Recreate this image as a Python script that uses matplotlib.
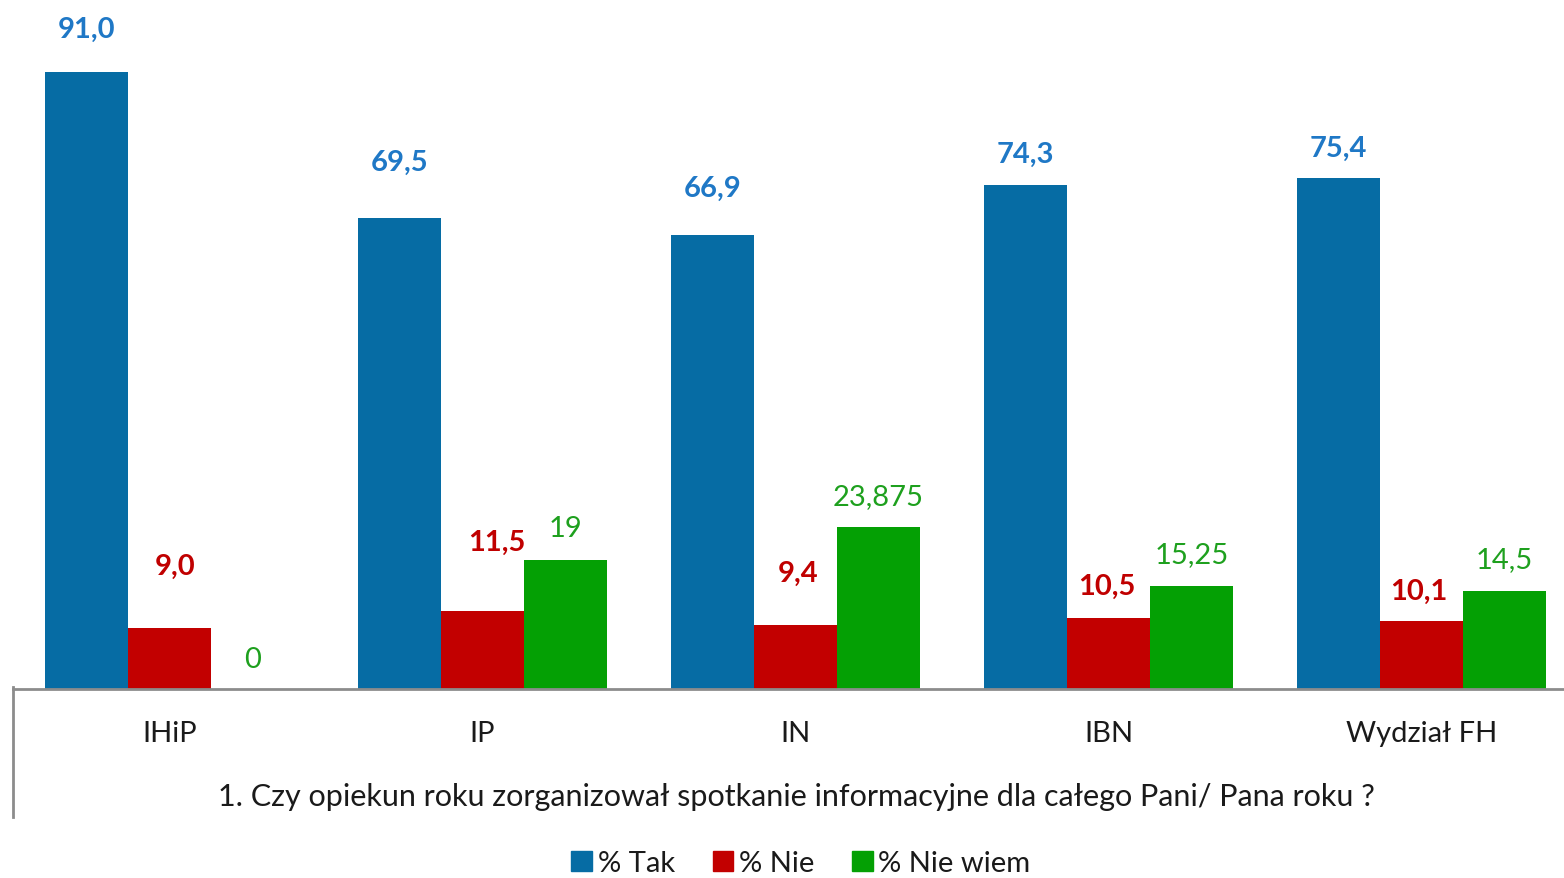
import numpy as np
import matplotlib
matplotlib.use('Agg')
import matplotlib.pyplot as plt
from matplotlib.patches import Patch
from matplotlib.lines import Line2D

plt.rcParams['font.family'] = ['Lato', 'DejaVu Sans']

# Data
categories = ['IHiP', 'IP', 'IN', 'IBN', 'Wydział FH']
tak = [91.0, 69.5, 66.9, 74.3, 75.4]
nie = [9.0, 11.5, 9.4, 10.5, 10.1]
nie_wiem = [0, 19, 23.875, 15.25, 14.5]
tak_labels = ['91,0', '69,5', '66,9', '74,3', '75,4']
nie_labels = ['9,0', '11,5', '9,4', '10,5', '10,1']
nie_wiem_labels = ['0', '19', '23,875', '15,25', '14,5']
series_names = ['% Tak', '% Nie', '% Nie wiem']
question = '1. Czy opiekun roku zorganizował spotkanie informacyjne dla całego Pani/ Pana roku ?'

# label offsets (pixels above bar top), the original has them placed by hand
tak_dy = [43, 56, 48, 31, 30]
nie_dy = [62, 69, 52, 32, 30]
nie_wiem_dy = [30, 32, 31, 32, 32]
nie_dx = [6, 14, 3, -2, -3]

c_blue, c_red, c_green = '#066CA4', '#C20000', '#04A004'
c_blue_txt, c_red_txt, c_green_txt = '#1F78C6', '#C00000', '#1EA01E'

W, H = 1564, 879
fig = plt.figure(figsize=(W / 100, H / 100), dpi=100)
ax = fig.add_axes([13 / W, (H - 690) / H, (W - 13) / W, 690 / H])

x = np.arange(len(categories))
bw = 0.265
ax.bar(x - bw, tak, bw, color=c_blue)
ax.bar(x, nie, bw, color=c_red)
ax.bar(x + bw, nie_wiem, bw, color=c_green)

for i in range(len(categories)):
    ax.annotate(tak_labels[i], (x[i] - bw, tak[i]), xytext=(0, tak_dy[i]),
                textcoords='offset pixels', ha='center', va='center',
                fontsize=21, fontweight='bold', color=c_blue_txt)
    ax.annotate(nie_labels[i], (x[i], nie[i]), xytext=(nie_dx[i], nie_dy[i]),
                textcoords='offset pixels', ha='center', va='center',
                fontsize=21, fontweight='bold', color=c_red_txt)
    ax.annotate(nie_wiem_labels[i], (x[i] + bw, nie_wiem[i]), xytext=(0, nie_wiem_dy[i]),
                textcoords='offset pixels', ha='center', va='center',
                fontsize=21, color=c_green_txt)

ax.set_xlim(-0.5, -0.5 + (W - 13) / 313)
ax.set_ylim(0, 690 / 6.78)
ax.set_xticks(x)
ax.set_xticklabels(categories, fontsize=21, color='#1A1A1A')
ax.tick_params(axis='x', length=0, pad=22)
ax.set_yticks([])
for s in ['top', 'right', 'left']:
    ax.spines[s].set_visible(False)
ax.spines['bottom'].set_color('#8C8C8C')
ax.spines['bottom'].set_linewidth(2)

# left border of the category table
fig.add_artist(Line2D([13 / W, 13 / W], [(H - 688) / H, (H - 818) / H],
                      color='#8C8C8C', linewidth=2))

fig.text(796 / W, 1 - 797 / H, question, ha='center', va='center',
         fontsize=22, color='#1A1A1A')

handles = [Patch(color=c) for c in (c_blue, c_red, c_green)]
fig.legend(handles, series_names, loc='center', bbox_to_anchor=(801 / W, 1 - 864 / H),
           ncol=3, frameon=False, fontsize=21, handlelength=0.7, handleheight=0.7,
           handletextpad=0.2, columnspacing=1.3, labelcolor='#1A1A1A')

fig.savefig('out.png', dpi=100)
